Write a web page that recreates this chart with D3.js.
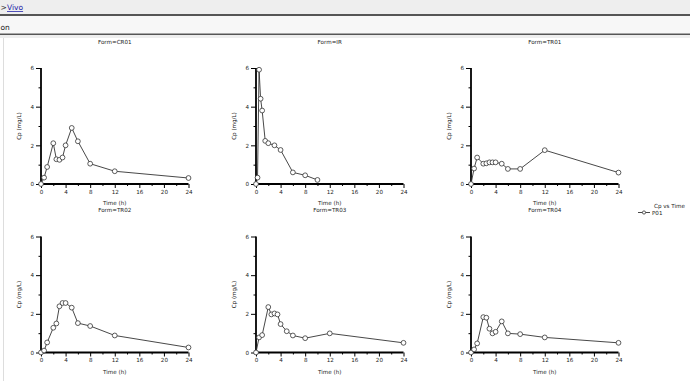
<!DOCTYPE html>
<html><head><meta charset="utf-8">
<script src="https://cdn.jsdelivr.net/npm/d3@7"></script>
<style>
html,body{margin:0;padding:0;background:#fff;overflow:hidden;}
svg{display:block;}
text{font-family:"DejaVu Sans",Verdana,sans-serif;}
</style></head>
<body>
<svg id="c" width="690" height="381"></svg>
<script>
// ---- data ----
const forms = ["CR01","IR","TR01","TR02","TR03","TR04"];
const timesCR01 = [0,0.5,1,2,2.5,3,3.5,4,5,6,8,12,24];
const cpCR01    = [0,0.33,0.88,2.11,1.28,1.25,1.37,2.0,2.9,2.21,1.05,0.66,0.31];
const timesIR   = [0,0.25,0.5,0.75,1,1.5,2,3,4,6,8,10];
const cpIR      = [0,0.33,5.91,4.41,3.8,2.23,2.11,2.0,1.76,0.6,0.45,0.21];
const timesTR01 = [0,0.5,1,2,2.5,3,3.5,4,5,6,8,12,24];
const cpTR01    = [0,0.8,1.37,1.05,1.07,1.12,1.12,1.12,1.05,0.78,0.78,1.75,0.59];
const timesTR02 = [0,0.5,1,2,2.5,3,3.5,4,5,6,8,12,24];
const cpTR02    = [0,0.1,0.52,1.28,1.5,2.39,2.56,2.56,2.32,1.52,1.37,0.88,0.26];
const timesTR03 = [0,0.5,1,2,2.5,3,3.5,4,5,6,8,12,24];
const cpTR03    = [0,0.78,0.9,2.35,1.97,2.02,1.97,1.47,1.1,0.88,0.74,0.99,0.5];
const timesTR04 = [0,0.5,1,2,2.5,3,3.5,4,5,6,8,12,24];
const cpTR04    = [0,0.16,0.47,1.83,1.8,1.23,0.99,1.07,1.61,0.99,0.95,0.78,0.5];
const xMajor = [0,4,8,12,16,20,24];
const xMinor = [2,6,10,14,18,22];
const yMajor = [0,2,4,6];
const yMinor = [1,3,5];
const xTitle = "Time (h)";
const yTitle = "Cp (mg/L)";
const legendTitle = "Cp vs Time";
const subject = "P01";

const seriesTimes = [timesCR01,timesIR,timesTR01,timesTR02,timesTR03,timesTR04];
const seriesCp = [cpCR01,cpIR,cpTR01,cpTR02,cpTR03,cpTR04];

const svg = d3.select("#c");

// ---- page header ----
svg.append("rect").attr("x",0).attr("y",0).attr("width",690).attr("height",14).attr("fill","#eeeeee");
svg.append("text").attr("x",0.5).attr("y",10).attr("font-size",7.5).attr("fill","#333").text(">");
svg.append("text").attr("x",7).attr("y",10).attr("font-size",7.5).attr("fill","#1a1aa6")
  .attr("text-decoration","underline").text("Vivo");
svg.append("rect").attr("x",0).attr("y",14).attr("width",690).attr("height",2).attr("fill","#555");
svg.append("rect").attr("x",0).attr("y",16).attr("width",690).attr("height",17.5).attr("fill","#f7f7f7");
svg.append("text").attr("x",0.5).attr("y",30).attr("font-size",7.5).attr("fill","#222").text("on");
svg.append("rect").attr("x",0).attr("y",33.5).attr("width",690).attr("height",1.6).attr("fill","#555");
svg.append("rect").attr("x",0).attr("y",35).attr("width",690).attr("height",3).attr("fill","#eeeeee");
svg.append("rect").attr("x",3).attr("y",38).attr("width",1).attr("height",343).attr("fill","#dddddd");

// ---- panels ----
const colX = [41,256,471];
const rowY = [68,236.5];
const pw = 147.5, ph = 116;

forms.forEach((f,i)=>{
  const cx = colX[i%3], cy = rowY[Math.floor(i/3)];
  const g = svg.append("g").attr("transform",`translate(${cx},${cy})`);
  const x = d3.scaleLinear().domain([0,24]).range([0,pw]);
  const y = d3.scaleLinear().domain([0,6]).range([ph,0]);

  g.append("text").attr("x",pw/2).attr("y",-24.5).attr("text-anchor","middle")
    .attr("font-size",5.6).attr("fill","#222").text("Form="+f);

  // x axis
  const gx = g.append("g").attr("transform",`translate(0,${ph})`);
  gx.call(d3.axisBottom(x).tickValues(xMajor).tickSize(4).tickPadding(2).tickFormat(d3.format("d")));
  gx.append("g").call(d3.axisBottom(x).tickValues(xMinor).tickSize(2).tickFormat(""));
  gx.selectAll(".domain").remove();
  gx.append("line").attr("x1",0).attr("x2",pw).attr("stroke","#000").attr("stroke-width",1.8);
  gx.selectAll("text").attr("font-size",5.6).attr("fill","#222").attr("font-family","DejaVu Sans");

  // y axis
  const gy = g.append("g");
  gy.call(d3.axisLeft(y).tickValues(yMajor).tickSize(5).tickPadding(2).tickFormat(d3.format("d")));
  gy.append("g").call(d3.axisLeft(y).tickValues(yMinor).tickSize(2.5).tickFormat(""));
  gy.selectAll(".domain").remove();
  gy.append("line").attr("y1",0).attr("y2",ph+1).attr("stroke","#000").attr("stroke-width",1.8);
  gy.selectAll("text").attr("font-size",5.6).attr("fill","#222").attr("font-family","DejaVu Sans");

  g.append("text").attr("x",pw/2).attr("y",ph+21).attr("text-anchor","middle")
    .attr("font-size",5.6).attr("fill","#222").text(xTitle);
  g.append("text").attr("transform",`translate(-20,${ph/2}) rotate(-90)`).attr("text-anchor","middle")
    .attr("font-size",5.6).attr("fill","#222").text(yTitle);

  const pts = seriesTimes[i].map((t,k)=>[t,seriesCp[i][k]]);
  g.append("path").datum(pts)
    .attr("d",d3.line().x(d=>x(d[0])).y(d=>y(d[1])))
    .attr("fill","none").attr("stroke","#333").attr("stroke-width",0.9);
  g.selectAll("circle.pt").data(pts).enter().append("circle")
    .attr("cx",d=>x(d[0])).attr("cy",d=>y(d[1])).attr("r",2.4)
    .attr("fill","#fff").attr("stroke","#333").attr("stroke-width",0.8);
});

// ---- legend ----
svg.append("text").attr("x",654).attr("y",208).attr("font-size",5.6).attr("fill","#222").text(legendTitle);
svg.append("line").attr("x1",638).attr("x2",650).attr("y1",212.5).attr("y2",212.5).attr("stroke","#333").attr("stroke-width",0.9);
svg.append("circle").attr("cx",644).attr("cy",212.5).attr("r",1.6).attr("fill","#fff").attr("stroke","#333").attr("stroke-width",0.8);
svg.append("text").attr("x",652).attr("y",214.5).attr("font-size",5.6).attr("fill","#222").text(subject);
</script>
</body></html>
